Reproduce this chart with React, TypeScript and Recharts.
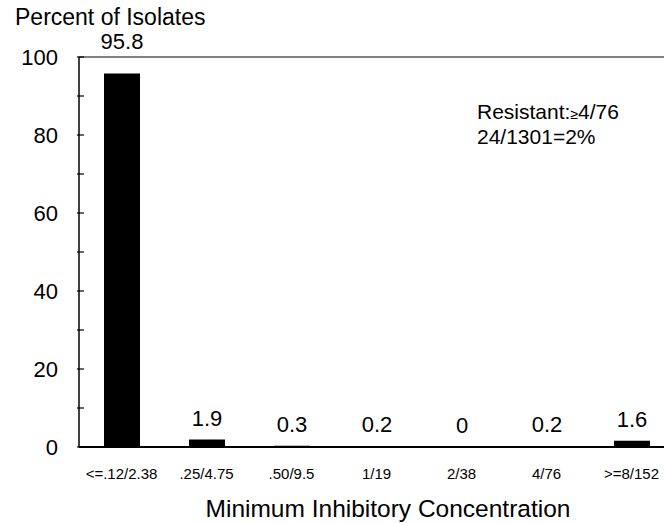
import React from "react";
import { BarChart, Bar, XAxis, YAxis, LabelList, ReferenceLine } from "recharts";

// MIC breakpoints (trimethoprim/sulfamethoxazole style dilutions)
const categories = ["<=.12/2.38", ".25/4.75", ".50/9.5", "1/19", "2/38", "4/76", ">=8/152"];
const percents = [95.8, 1.9, 0.3, 0.2, 0, 0.2, 1.6];
const yTicks = [0, 10, 20, 30, 40, 50, 60, 70, 80, 90, 100];
const yTickLabels = ["0", "", "20", "", "40", "", "60", "", "80", "", "100"];

const data = categories.map((mic, i) => ({ mic, pct: percents[i], label: String(percents[i]) }));

const FONT = '"Liberation Sans", Arial, Helvetica, sans-serif';
const PLOT_TOP = 57;

const YTick = (props: any) => {
  const { x, y, payload } = props;
  const label = yTickLabels[yTicks.indexOf(payload.value)];
  return (
    <g>
      <line x1={x} x2={x + 7} y1={y} y2={y} stroke="#000" strokeWidth={1.2} />
      <text x={x - 19} y={y} dy="0.36em" textAnchor="end" fontSize={22} fontFamily={FONT} fill="#000">
        {label}
      </text>
    </g>
  );
};

const XTick = (props: any) => {
  const { x, y, payload } = props;
  return (
    <text x={x} y={y + 30} textAnchor="middle" fontSize={15} fontFamily={FONT} fill="#000">
      {payload.value}
    </text>
  );
};

// value above each bar; a bar reaching the frame gets its label above the frame
const BarLabel = (props: any) => {
  const { x, y, width, value } = props;
  const ty = y - 30 < PLOT_TOP ? PLOT_TOP - 8 : y - 14;
  return (
    <text x={x + width / 2} y={ty} textAnchor="middle" fontSize={22} fontFamily={FONT} fill="#000">
      {value}
    </text>
  );
};

export default function App() {
  return (
    <div
      style={{
        position: "absolute",
        left: 0,
        top: 0,
        width: 664,
        height: 523,
        overflow: "hidden",
        background: "#fff",
      }}
    >
      <BarChart
        width={700}
        height={523}
        data={data}
        margin={{ top: PLOT_TOP, right: 26, left: 0, bottom: 0 }}
        barSize={36}
      >
        <XAxis
          dataKey="mic"
          height={76}
          interval={0}
          axisLine={{ stroke: "#000", strokeWidth: 2 }}
          tickLine={false}
          tickSize={0}
          tick={<XTick />}
        />
        <YAxis
          width={79}
          domain={[0, 100]}
          ticks={yTicks}
          interval={0}
          axisLine={{ stroke: "#000", strokeWidth: 1.5 }}
          tickLine={false}
          tickSize={0}
          tick={<YTick />}
        />
        <ReferenceLine y={100} stroke="#000" strokeWidth={1} />
        {/* zero-height bars are dropped otherwise, and their label with them */}
        <Bar
          dataKey="pct"
          fill="#000"
          minPointSize={(v: number) => (v === 0 ? 0.01 : 0)}
          isAnimationActive={false}
        >
          <LabelList dataKey="label" content={<BarLabel />} />
        </Bar>
        <text x={15} y={25} fontSize={23} fontFamily={FONT} fill="#000">
          Percent of Isolates
        </text>
        <text x={388} y={517} textAnchor="middle" fontSize={24.5} fontFamily={FONT} fill="#000">
          Minimum Inhibitory Concentration
        </text>
        <text x={477} y={119} fontSize={21} fontFamily={FONT} fill="#000">
          Resistant:<tspan fontSize={14}>≥</tspan>4/76
        </text>
        <text x={477} y={144} fontSize={21} fontFamily={FONT} fill="#000">
          24/1301=2%
        </text>
      </BarChart>
    </div>
  );
}
